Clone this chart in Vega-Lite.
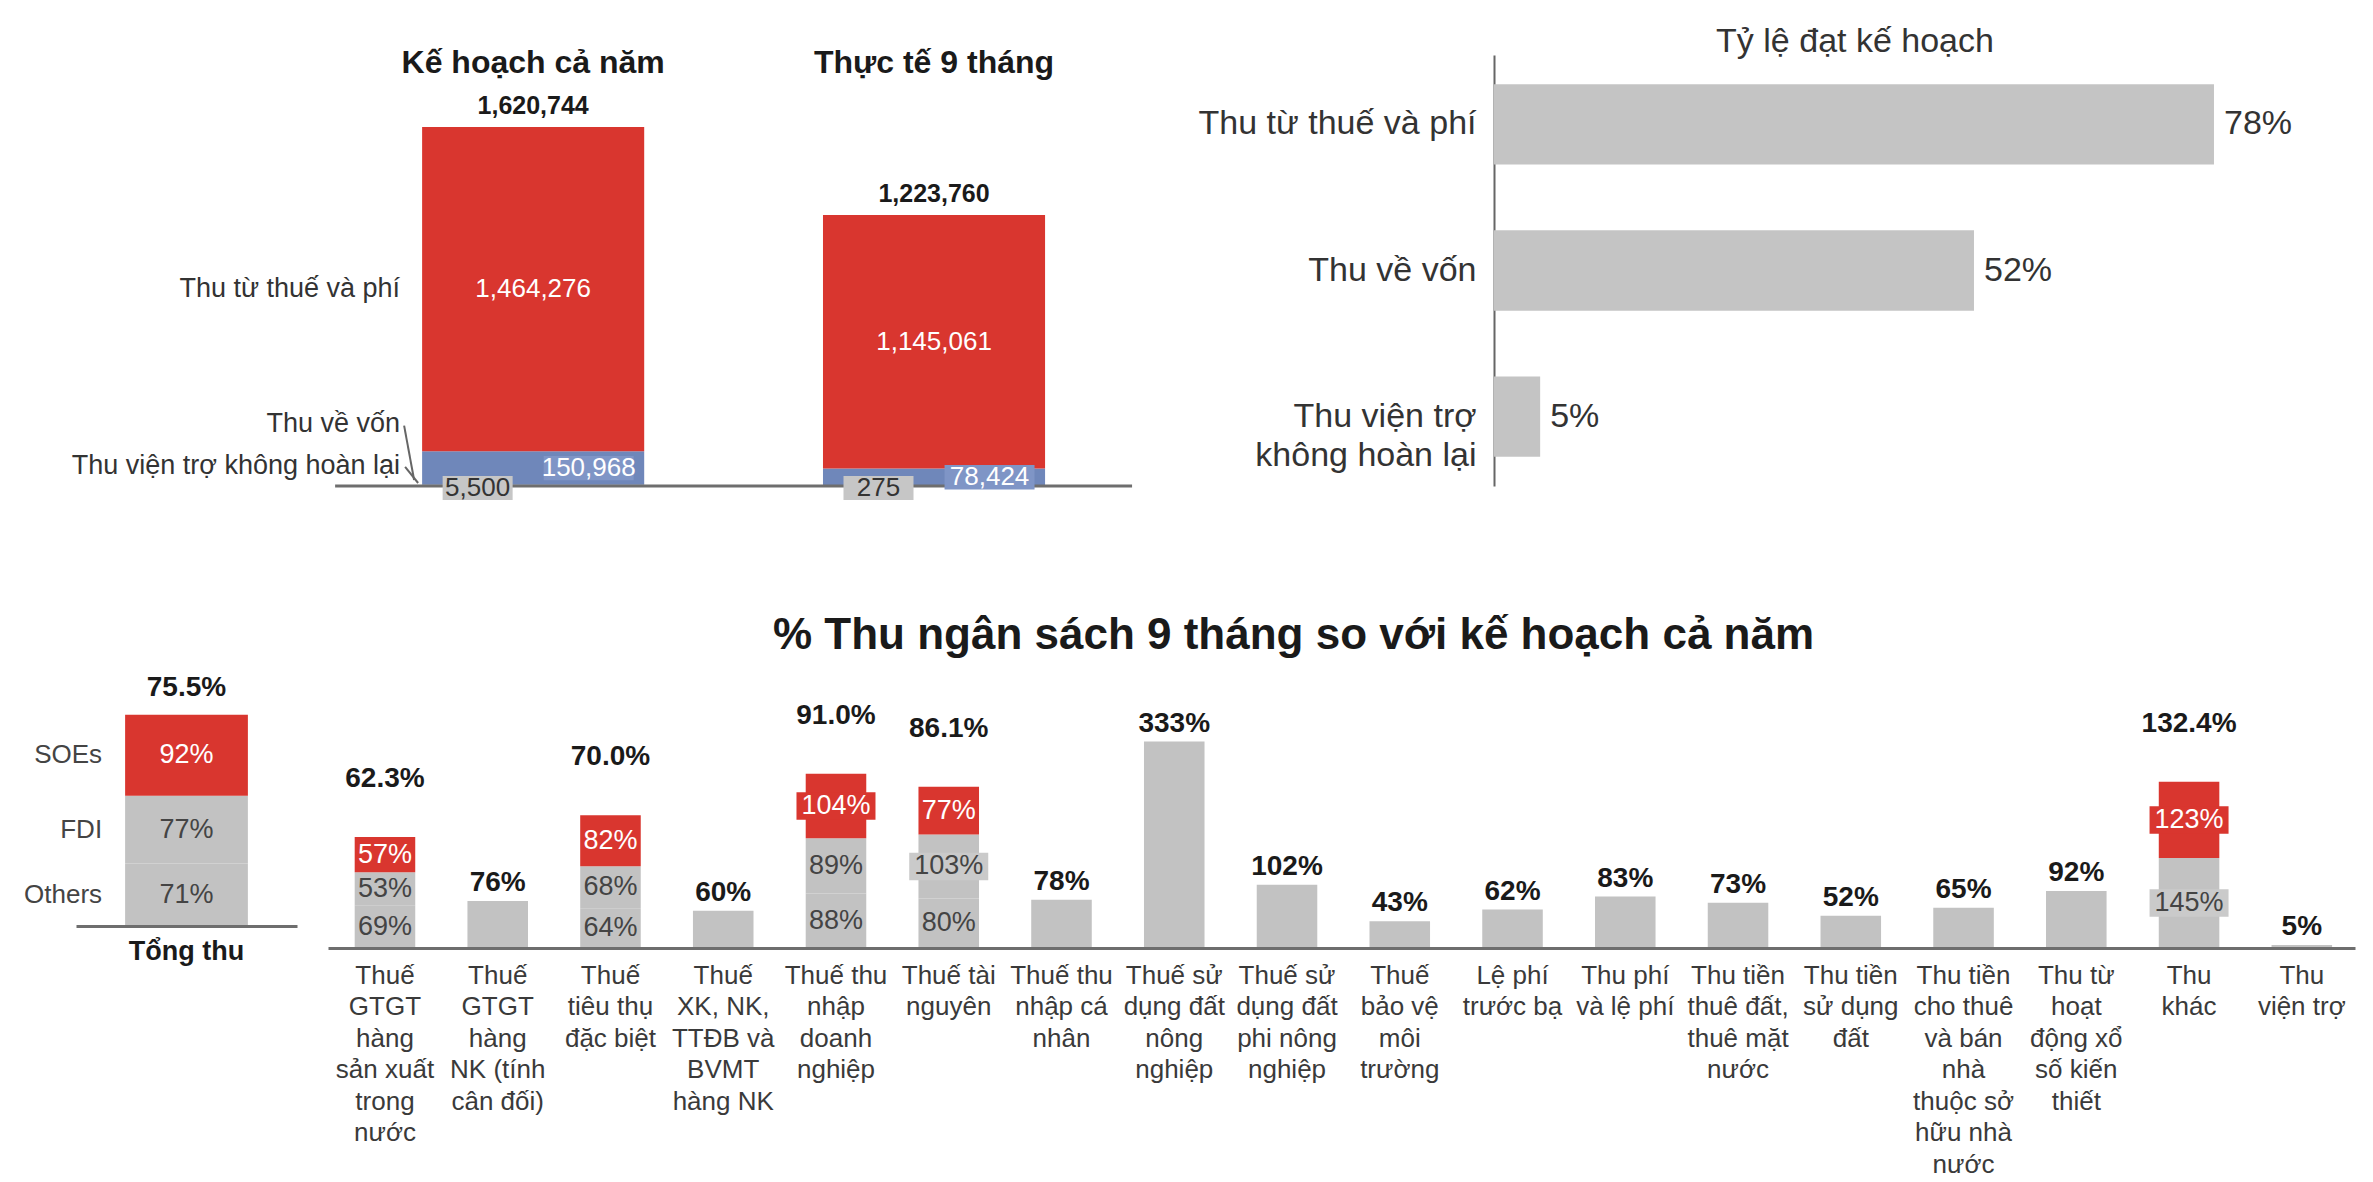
{
  "$schema": "https://vega.github.io/schema/vega-lite/v6.json",
  "background": "white",
  "padding": {"left": 24, "top": 25, "right": 10, "bottom": 0},
  "bounds": "flush",
  "spacing": 614,
  "resolve": {"scale": {"color": "independent"}},
  "config": {
    "font": "Liberation Sans",
    "view": {"stroke": null},
    "axis": {"grid": false},
    "axisQuantitative": {"disable": true}
  },
  "datasets": {
    "tl": [
      {"col": "Kế hoạch cả năm", "part": "Thu viện trợ không hoàn lại", "ord": 1, "value": 5500},
      {"col": "Kế hoạch cả năm", "part": "Thu về vốn", "ord": 2, "value": 150968},
      {"col": "Kế hoạch cả năm", "part": "Thu từ thuế và phí", "ord": 3, "value": 1464276},
      {"col": "Thực tế 9 tháng", "part": "Thu viện trợ không hoàn lại", "ord": 1, "value": 275},
      {"col": "Thực tế 9 tháng", "part": "Thu về vốn", "ord": 2, "value": 78424},
      {"col": "Thực tế 9 tháng", "part": "Thu từ thuế và phí", "ord": 3, "value": 1145061}
    ],
    "tr": [
      {"cat": "Thu từ thuế và phí", "rate": 0.78},
      {"cat": "Thu về vốn", "rate": 0.52},
      {"cat": "Thu viện trợ\nkhông hoàn lại", "rate": 0.05}
    ],
    "bl": [
      {"cat": "Tổng thu", "seg": "Others", "ord": 1, "value": 0.71, "total": 0.755},
      {"cat": "Tổng thu", "seg": "FDI", "ord": 2, "value": 0.77, "total": 0.755},
      {"cat": "Tổng thu", "seg": "SOEs", "ord": 3, "value": 0.92, "total": 0.755}
    ],
    "bm": [
      {"cat": "Thuế\nGTGT\nhàng\nsản xuất\ntrong\nnước", "seg": "Others", "ord": 1, "value": 0.69, "total": 0.623},
      {"cat": "Thuế\nGTGT\nhàng\nsản xuất\ntrong\nnước", "seg": "FDI", "ord": 2, "value": 0.53, "total": 0.623},
      {"cat": "Thuế\nGTGT\nhàng\nsản xuất\ntrong\nnước", "seg": "SOEs", "ord": 3, "value": 0.57, "total": 0.623},
      {"cat": "Thuế\nGTGT\nhàng\nNK (tính\ncân đối)", "seg": "All", "ord": 1, "value": 0.76},
      {"cat": "Thuế\ntiêu thụ\nđặc biệt", "seg": "Others", "ord": 1, "value": 0.64, "total": 0.70},
      {"cat": "Thuế\ntiêu thụ\nđặc biệt", "seg": "FDI", "ord": 2, "value": 0.68, "total": 0.70},
      {"cat": "Thuế\ntiêu thụ\nđặc biệt", "seg": "SOEs", "ord": 3, "value": 0.82, "total": 0.70},
      {"cat": "Thuế\nXK, NK,\nTTĐB và\nBVMT\nhàng NK", "seg": "All", "ord": 1, "value": 0.60},
      {"cat": "Thuế thu\nnhập\ndoanh\nnghiệp", "seg": "Others", "ord": 1, "value": 0.88, "total": 0.91},
      {"cat": "Thuế thu\nnhập\ndoanh\nnghiệp", "seg": "FDI", "ord": 2, "value": 0.89, "total": 0.91},
      {"cat": "Thuế thu\nnhập\ndoanh\nnghiệp", "seg": "SOEs", "ord": 3, "value": 1.04, "total": 0.91},
      {"cat": "Thuế tài\nnguyên", "seg": "Others", "ord": 1, "value": 0.80, "total": 0.861},
      {"cat": "Thuế tài\nnguyên", "seg": "FDI", "ord": 2, "value": 1.03, "total": 0.861},
      {"cat": "Thuế tài\nnguyên", "seg": "SOEs", "ord": 3, "value": 0.77, "total": 0.861},
      {"cat": "Thuế thu\nnhập cá\nnhân", "seg": "All", "ord": 1, "value": 0.78},
      {"cat": "Thuế sử\ndụng đất\nnông\nnghiệp", "seg": "All", "ord": 1, "value": 3.33},
      {"cat": "Thuế sử\ndụng đất\nphi nông\nnghiệp", "seg": "All", "ord": 1, "value": 1.02},
      {"cat": "Thuế\nbảo vệ\nmôi\ntrường", "seg": "All", "ord": 1, "value": 0.43},
      {"cat": "Lệ phí\ntrước bạ", "seg": "All", "ord": 1, "value": 0.62},
      {"cat": "Thu phí\nvà lệ phí", "seg": "All", "ord": 1, "value": 0.83},
      {"cat": "Thu tiền\nthuê đất,\nthuê mặt\nnước", "seg": "All", "ord": 1, "value": 0.73},
      {"cat": "Thu tiền\nsử dụng\nđất", "seg": "All", "ord": 1, "value": 0.52},
      {"cat": "Thu tiền\ncho thuê\nvà bán\nnhà\nthuộc sở\nhữu nhà\nnước", "seg": "All", "ord": 1, "value": 0.65},
      {"cat": "Thu từ\nhoạt\nđộng xổ\nsố kiến\nthiết", "seg": "All", "ord": 1, "value": 0.92},
      {"cat": "Thu\nkhác", "seg": "Others", "ord": 1, "value": 1.45, "total": 1.324},
      {"cat": "Thu\nkhác", "seg": "SOEs", "ord": 3, "value": 1.23, "total": 1.324},
      {"cat": "Thu\nviện trợ", "seg": "All", "ord": 1, "value": 0.05}
    ]
  },
  "vconcat": [
    {
      "bounds": "flush",
      "spacing": 31,
      "resolve": {"scale": {"color": "independent"}},
      "hconcat": [
        {
          "width": 1387,
          "height": 431,
          "data": {"name": "tl"},
          "encoding": {
            "x": {
              "field": "col", "type": "nominal", "sort": null, "title": null,
              "scale": {"paddingInner": 0.446, "paddingOuter": 0.953, "align": 0.453},
              "axis": {"orient": "top", "domain": false, "ticks": false, "tickSize": 0, "labelAngle": 0, "labelFontSize": 32, "labelFontWeight": "bold", "labelColor": "#1a1a1a", "labelPadding": 0, "offset": -7, "labelBaseline": "middle", "labelLimit": 0}
            }
          },
          "layer": [
            {
              "mark": {"type": "bar"},
              "encoding": {
                "y": {"field": "value", "type": "quantitative", "stack": "zero", "scale": {"domain": [0, 1945800], "nice": false}, "axis": null},
                "color": {"field": "part", "type": "nominal", "scale": {"domain": ["Thu viện trợ không hoàn lại", "Thu về vốn", "Thu từ thuế và phí"], "range": ["#B8B8B8", "#6F87BA", "#D9362F"]}, "legend": null},
                "order": {"field": "ord", "type": "quantitative"}
              }
            },
            {
              "data": {"values": [{}]},
              "mark": {"type": "rule", "color": "#6E6E6E", "strokeWidth": 3, "xOffset": -87, "x2Offset": 87},
              "encoding": {
                "x": {"datum": "Kế hoạch cả năm", "bandPosition": 0},
                "x2": {"datum": "Thực tế 9 tháng", "bandPosition": 1},
                "y": {"datum": 0, "axis": null}
              }
            },
            {
              "mark": {"type": "text", "fontSize": 25, "fontWeight": "bold", "color": "#1a1a1a", "baseline": "middle", "dy": -21},
              "encoding": {
                "y": {"aggregate": "sum", "field": "value", "type": "quantitative", "axis": null},
                "text": {"aggregate": "sum", "field": "value", "type": "quantitative", "format": ","}
              }
            },
            {
              "mark": {"type": "text", "fontSize": 26, "color": "white", "baseline": "middle"},
              "encoding": {
                "y": {"field": "value", "type": "quantitative", "stack": "zero", "bandPosition": 0.5, "axis": null},
                "order": {"field": "ord", "type": "quantitative"},
                "text": {"condition": {"test": "datum.part === 'Thu từ thuế và phí'", "field": "value", "type": "quantitative", "format": ","}, "value": ""}
              }
            },
            {
              "mark": {"type": "point", "shape": "M-1,-0.27H1V0.27H-1Z", "filled": true, "opacity": 1, "strokeWidth": 0, "color": "#7F95C6"},
              "encoding": {
                "x": {"field": "col", "type": "nominal", "sort": null, "bandPosition": 0.75},
                "y": {"field": "value", "type": "quantitative", "stack": "zero", "bandPosition": 0.5, "axis": null},
                "order": {"field": "ord", "type": "quantitative"},
                "size": {"condition": {"test": "datum.part === 'Thu về vốn'", "value": 8100}, "value": 0}
              }
            },
            {
              "mark": {"type": "text", "fontSize": 26, "color": "white", "baseline": "middle"},
              "encoding": {
                "x": {"field": "col", "type": "nominal", "sort": null, "bandPosition": 0.75},
                "y": {"field": "value", "type": "quantitative", "stack": "zero", "bandPosition": 0.5, "axis": null},
                "order": {"field": "ord", "type": "quantitative"},
                "text": {"condition": {"test": "datum.part === 'Thu về vốn'", "field": "value", "type": "quantitative", "format": ","}, "value": ""}
              }
            },
            {
              "transform": [{"filter": "datum.part === 'Thu viện trợ không hoàn lại'"}],
              "mark": {"type": "point", "shape": "M-1,-0.34H1V0.34H-1Z", "filled": true, "opacity": 1, "strokeWidth": 0, "color": "#C6C6C6", "yOffset": 2},
              "encoding": {
                "x": {"field": "col", "type": "nominal", "sort": null, "bandPosition": 0.25},
                "y": {"datum": 0, "axis": null},
                "size": {"value": 4900}
              }
            },
            {
              "transform": [{"filter": "datum.part === 'Thu viện trợ không hoàn lại'"}],
              "mark": {"type": "text", "fontSize": 26, "color": "#333333", "baseline": "middle", "dy": 2},
              "encoding": {
                "x": {"field": "col", "type": "nominal", "sort": null, "bandPosition": 0.25},
                "y": {"datum": 0, "axis": null},
                "text": {"field": "value", "type": "quantitative", "format": ","}
              }
            },
            {
              "transform": [{"filter": "datum.col === 'Kế hoạch cả năm'"}],
              "mark": {"type": "text", "fontSize": 27, "color": "#333333", "align": "right", "baseline": "middle", "dx": -22},
              "encoding": {
                "x": {"field": "col", "type": "nominal", "sort": null, "bandPosition": 0},
                "y": {"field": "value", "type": "quantitative", "stack": "zero", "bandPosition": 0.5, "axis": null},
                "order": {"field": "ord", "type": "quantitative"},
                "text": {"condition": {"test": "datum.part === 'Thu từ thuế và phí'", "field": "part", "type": "nominal"}, "value": ""}
              }
            },
            {
              "transform": [{"filter": "datum.col === 'Kế hoạch cả năm'"}],
              "mark": {"type": "text", "fontSize": 27, "color": "#333333", "align": "right", "baseline": "middle", "dx": -22, "dy": -27},
              "encoding": {
                "x": {"field": "col", "type": "nominal", "sort": null, "bandPosition": 0},
                "y": {"field": "value", "type": "quantitative", "stack": "zero", "axis": null},
                "order": {"field": "ord", "type": "quantitative"},
                "text": {"condition": {"test": "datum.part === 'Thu về vốn'", "field": "part", "type": "nominal"}, "value": ""}
              }
            },
            {
              "transform": [{"filter": "datum.col === 'Kế hoạch cả năm'"}],
              "mark": {"type": "text", "fontSize": 27, "color": "#333333", "align": "right", "baseline": "middle", "dx": -22, "dy": -19},
              "encoding": {
                "x": {"field": "col", "type": "nominal", "sort": null, "bandPosition": 0},
                "y": {"field": "value", "type": "quantitative", "stack": "zero", "axis": null},
                "order": {"field": "ord", "type": "quantitative"},
                "text": {"condition": {"test": "datum.part === 'Thu viện trợ không hoàn lại'", "field": "part", "type": "nominal"}, "value": ""}
              }
            },
            {
              "transform": [{"filter": "datum.col === 'Kế hoạch cả năm' && datum.part === 'Thu về vốn'"}],
              "mark": {"type": "rule", "color": "#666666", "strokeWidth": 2, "xOffset": -18, "x2Offset": -8, "yOffset": -27, "y2Offset": -6},
              "encoding": {
                "x": {"field": "col", "type": "nominal", "sort": null, "bandPosition": 0},
                "x2": {"datum": "Kế hoạch cả năm", "bandPosition": 0},
                "y": {"field": "value", "type": "quantitative", "stack": null, "axis": null},
                "y2": {"datum": 0}
              }
            },
            {
              "transform": [{"filter": "datum.col === 'Kế hoạch cả năm' && datum.part === 'Thu viện trợ không hoàn lại'"}],
              "mark": {"type": "rule", "color": "#666666", "strokeWidth": 2, "xOffset": -17, "x2Offset": -4, "yOffset": -18, "y2Offset": -3},
              "encoding": {
                "x": {"field": "col", "type": "nominal", "sort": null, "bandPosition": 0},
                "x2": {"datum": "Kế hoạch cả năm", "bandPosition": 0},
                "y": {"field": "value", "type": "quantitative", "stack": null, "axis": null},
                "y2": {"datum": 0}
              }
            }
          ]
        },
        {
          "width": 860,
          "height": 431,
          "data": {"name": "tr"},
          "title": {"text": "Tỷ lệ đạt kế hoạch", "fontSize": 34, "fontWeight": "normal", "color": "#333333", "anchor": "middle", "dx": -69, "offset": -38, "baseline": "bottom"},
          "encoding": {
            "y": {
              "field": "cat", "type": "nominal", "sort": null, "title": null,
              "scale": {"paddingInner": 0.45, "paddingOuter": 0.2},
              "axis": {"domain": true, "domainColor": "#666666", "domainWidth": 2, "ticks": false, "tickSize": 0, "labelFontSize": 34, "labelColor": "#333333", "labelPadding": 18, "labelLimit": 0, "labelLineHeight": 39, "labelExpr": "split(datum.label, '\\n')"}
            },
            "x": {"field": "rate", "type": "quantitative", "scale": {"domain": [0, 0.9317], "nice": false}, "axis": null}
          },
          "layer": [
            {"mark": {"type": "bar", "color": "#C4C4C4"}},
            {
              "mark": {"type": "text", "align": "left", "baseline": "middle", "dx": 10, "fontSize": 34, "color": "#333333"},
              "encoding": {"text": {"field": "rate", "type": "quantitative", "format": ".0%"}}
            }
          ]
        }
      ]
    },
    {
      "bounds": "flush",
      "spacing": 31,
      "resolve": {"scale": {"color": "independent"}},
      "hconcat": [
        {
          "width": 221,
          "height": 257,
          "data": {"name": "bl"},
          "encoding": {
            "x": {
              "field": "cat", "type": "nominal", "title": null,
              "scale": {"paddingInner": 0, "paddingOuter": 0.4},
              "axis": {"domain": true, "domainColor": "#6E6E6E", "domainWidth": 3, "zindex": 1, "ticks": false, "tickSize": 0, "labelAngle": 0, "labelFontSize": 27, "labelFontWeight": "bold", "labelColor": "#1a1a1a", "labelPadding": 12, "labelLimit": 0}
            }
          },
          "layer": [
            {
              "mark": {"type": "bar"},
              "encoding": {
                "y": {"field": "value", "type": "quantitative", "stack": "zero", "scale": {"domain": [0, 2.92], "nice": false}, "axis": null},
                "color": {"field": "seg", "type": "nominal", "scale": {"domain": ["Others", "FDI", "SOEs"], "range": ["#C2C2C2", "#C2C2C2", "#D9362F"]}, "legend": null},
                "order": {"field": "ord", "type": "quantitative"}
              }
            },
            {
              "mark": {"type": "text", "fontSize": 27, "baseline": "middle"},
              "encoding": {
                "y": {"field": "value", "type": "quantitative", "stack": "zero", "bandPosition": 0.5, "axis": null},
                "order": {"field": "ord", "type": "quantitative"},
                "text": {"field": "value", "type": "quantitative", "format": ".0%"},
                "color": {"condition": {"test": "datum.seg === 'SOEs'", "value": "white"}, "value": "#444444"}
              }
            },
            {
              "mark": {"type": "text", "fontSize": 26, "align": "right", "baseline": "middle", "dx": -23, "color": "#444444"},
              "encoding": {
                "x": {"field": "cat", "type": "nominal", "bandPosition": 0},
                "y": {"field": "value", "type": "quantitative", "stack": "zero", "bandPosition": 0.5, "axis": null},
                "order": {"field": "ord", "type": "quantitative"},
                "text": {"field": "seg", "type": "nominal"}
              }
            },
            {
              "mark": {"type": "text", "fontSize": 28, "fontWeight": "bold", "color": "#1a1a1a", "baseline": "middle", "dy": -27},
              "encoding": {
                "y": {"aggregate": "sum", "field": "value", "type": "quantitative", "axis": null},
                "text": {"aggregate": "max", "field": "total", "type": "quantitative", "format": ".1%"}
              }
            }
          ]
        },
        {
          "width": 2027,
          "height": 279,
          "data": {"name": "bm"},
          "title": {"text": "% Thu ngân sách 9 tháng so với kế hoạch cả năm", "fontSize": 44, "fontWeight": "bold", "color": "#1a1a1a", "anchor": "middle", "dx": -48, "offset": -33, "baseline": "bottom"},
          "encoding": {
            "x": {
              "field": "cat", "type": "nominal", "sort": null, "title": null,
              "scale": {"paddingInner": 0.463, "paddingOuter": 0.22, "align": 0.538},
              "axis": {"domain": true, "domainColor": "#6E6E6E", "domainWidth": 3, "zindex": 1, "ticks": false, "tickSize": 0, "labelAngle": 0, "labelFontSize": 26, "labelColor": "#3a3a3a", "labelPadding": 14, "labelLimit": 0, "labelLineHeight": 31.5, "labelBaseline": "top", "labelOverlap": false, "labelExpr": "split(datum.label, '\\n')"}
            }
          },
          "layer": [
            {
              "mark": {"type": "bar"},
              "encoding": {
                "y": {"field": "value", "type": "quantitative", "stack": "zero", "scale": {"domain": [0, 4.5], "nice": false}, "axis": null},
                "color": {"field": "seg", "type": "nominal", "scale": {"domain": ["All", "Others", "FDI", "SOEs"], "range": ["#C2C2C2", "#C2C2C2", "#C2C2C2", "#D9362F"]}, "legend": null},
                "order": {"field": "ord", "type": "quantitative"}
              }
            },
            {
              "transform": [{"filter": "datum.seg !== 'All'"}],
              "mark": {"type": "point", "shape": "M-1,-0.35H1V0.35H-1Z", "filled": true, "opacity": 1, "strokeWidth": 0},
              "encoding": {
                "y": {"field": "value", "type": "quantitative", "stack": "zero", "bandPosition": 0.5, "axis": null},
                "order": {"field": "ord", "type": "quantitative"},
                "color": {"condition": {"test": "datum.seg === 'SOEs'", "value": "#D9362F"}, "value": "#CACACA"},
                "size": {"condition": {"test": "datum.value >= 1", "value": 6241}, "value": 0}
              }
            },
            {
              "transform": [{"filter": "datum.seg !== 'All'"}],
              "mark": {"type": "text", "fontSize": 27, "baseline": "middle"},
              "encoding": {
                "y": {"field": "value", "type": "quantitative", "stack": "zero", "bandPosition": 0.5, "axis": null},
                "order": {"field": "ord", "type": "quantitative"},
                "text": {"field": "value", "type": "quantitative", "format": ".0%"},
                "color": {"condition": {"test": "datum.seg === 'SOEs'", "value": "white"}, "value": "#444444"}
              }
            },
            {
              "transform": [{"filter": "datum.seg === 'All'"}],
              "mark": {"type": "text", "fontSize": 28, "fontWeight": "bold", "color": "#1a1a1a", "baseline": "middle", "dy": -18},
              "encoding": {
                "y": {"field": "value", "type": "quantitative", "axis": null},
                "text": {"field": "value", "type": "quantitative", "format": ".0%"}
              }
            },
            {
              "transform": [{"filter": "datum.seg !== 'All'"}],
              "mark": {"type": "text", "fontSize": 28, "fontWeight": "bold", "color": "#1a1a1a", "baseline": "middle", "dy": -58},
              "encoding": {
                "y": {"aggregate": "sum", "field": "value", "type": "quantitative", "axis": null},
                "text": {"aggregate": "max", "field": "total", "type": "quantitative", "format": ".1%"}
              }
            }
          ]
        }
      ]
    }
  ]
}
